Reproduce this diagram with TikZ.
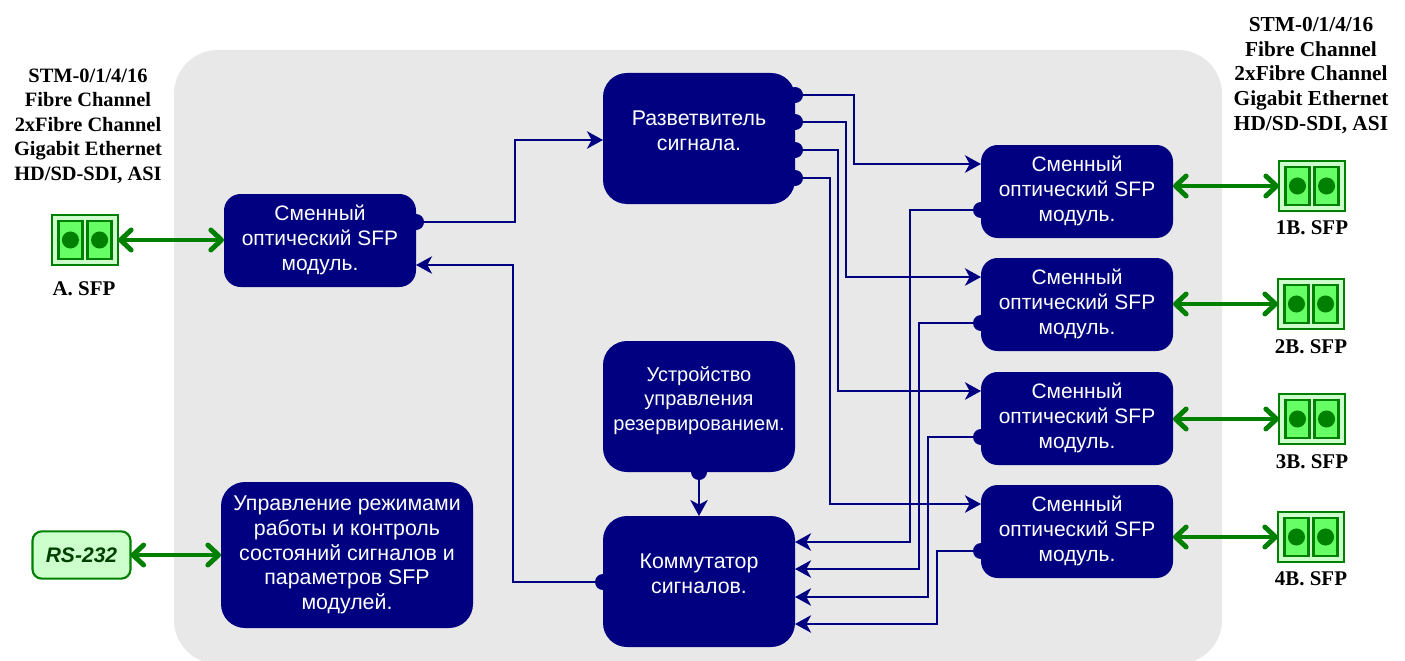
\documentclass[tikz,border=0pt]{standalone}
\usepackage{fontspec}
\setmainfont{Liberation Serif}
\setsansfont{Liberation Sans}
\usetikzlibrary{arrows.meta}
\definecolor{navyb}{HTML}{000080}
\definecolor{grn}{HTML}{008000}
\definecolor{panelc}{HTML}{E8E8E8}
\definecolor{lgrn}{HTML}{CCFFCC}
\definecolor{mgrn}{HTML}{66FF66}
\tikzset{
  px/.style={x=0.75pt,y=-0.75pt},
  blockbox/.style={draw=none,fill=navyb,rounded corners=18pt,inner sep=0pt,outer sep=0pt,text=white,align=center,font=\sffamily\fontsize{16}{18.6}\selectfont,minimum width=144pt},
  modbox/.style={blockbox,rounded corners=12.5pt,minimum height=69.75pt,font=\sffamily\fontsize{15.7}{18.75}\selectfont},
  bigbox/.style={blockbox,minimum height=98.25pt},
  bump/.style={circle,fill=navyb,draw=none,minimum size=12pt,inner sep=0pt,outer sep=0pt},
  wire/.style={draw=navyb,line width=2pt,line join=miter},
  tipwire/.style={wire,-{Stealth[inset=3.5pt,length=12pt,width=13pt]}},
  gwire/.style={draw=grn,line width=3.7pt,{Straight Barb[round,length=8pt,width=15pt]}-{Straight Barb[round,length=8pt,width=15pt]}},
  biglabel/.style={font=\rmfamily\bfseries\fontsize{15.7}{18.4}\selectfont,align=center,inner sep=0pt,text=black},
  sfpport/.style={draw=grn,line width=1.6pt,fill=mgrn,minimum width=18pt,minimum height=28pt,inner sep=0pt,outer sep=0pt},
  sfpouter/.style={draw=grn,line width=1.6pt,fill=lgrn,minimum width=49.5pt,minimum height=37.5pt,inner sep=0pt,outer sep=0pt},
  sfpdot/.style={circle,fill=grn,draw=none,minimum size=12.8pt,inner sep=0pt},
  rsbox/.style={draw=grn,line width=1.6pt,fill=lgrn,rounded corners=7pt,minimum width=73.5pt,minimum height=35.5pt,inner sep=0pt,outer sep=0pt,text={rgb,255:red,0;green,64;blue,0},font=\sffamily\bfseries\itshape\fontsize{15.8}{18}\selectfont},
}
\newcommand{\sfpicon}[3]{% name, cx, cy
  \node[sfpouter] (#1) at (#2,#3) {};
  \node[sfpport] (#1p) at ([xshift=-10.9pt]#1.center) {};
  \node[sfpport] (#1q) at ([xshift=10.9pt]#1.center) {};
  \node[sfpdot] (#1d) at (#1p) {};
  \node[sfpdot] (#1e) at (#1q) {};
}
\begin{document}
\begin{tikzpicture}[px]
\useasboundingbox (0,0) rectangle (1405,660);
\clip (0,0) rectangle (1405,660);
\fill[panelc,rounded corners=33pt] (174,50) rectangle (1222,664);

\node[bigbox] (split) at (699,138.5) {Разветвитель\\сигнала.\\[-6.6pt]};
\node[bigbox,font=\sffamily\fontsize{15}{18.4}\selectfont] (ctrl) at (699,406.5) {Устройство\\управления\\резервированием.\\[-6pt]};
\node[bigbox] (sw) at (699,581.5) {Коммутатор\\сигналов.\\[-6.6pt]};
\node[blockbox,minimum width=189pt,minimum height=109.5pt] (mgmt) at (347,555) {Управление режимами\\работы и контроль\\состояний сигналов и\\параметров SFP\\модулей.};
\node[modbox] (a) at (320,240.5) {Сменный\\оптический SFP\\модуль.\\[-14.5pt]};
\node[modbox] (m1) at (1077,191.5) {Сменный\\оптический SFP\\модуль.\\[-14.5pt]};
\node[modbox] (m2) at (1077,304.5) {Сменный\\оптический SFP\\модуль.\\[-14.5pt]};
\node[modbox] (m3) at (1077,418.5) {Сменный\\оптический SFP\\модуль.\\[-14.5pt]};
\node[modbox] (m4) at (1077,531.5) {Сменный\\оптический SFP\\модуль.\\[-14.5pt]};

\node[bump] (s1) at (795,95) {};
\node[bump] (s2) at (795,122) {};
\node[bump] (s3) at (795,150) {};
\node[bump] (s4) at (795,178) {};
\node[bump] (ao) at (416,222) {};
\node[bump] (so) at (603,582) {};
\node[bump] (co) at (699,472) {};
\node[bump] (o1) at (981,210) {};
\node[bump] (o2) at (981,323) {};
\node[bump] (o3) at (981,437) {};
\node[bump] (o4) at (981,551) {};

\draw[tipwire] (s1.center) -- (854,95) -- (854,164) -- (m1.west |- 0,164);
\draw[tipwire] (s2.center) -- (846,122) -- (846,277) -- (m2.west |- 0,277);
\draw[tipwire] (s3.center) -- (838,150) -- (838,391) -- (m3.west |- 0,391);
\draw[tipwire] (s4.center) -- (830,178) -- (830,504) -- (m4.west |- 0,504);
\draw[tipwire] (o1.center) -- (910,210) -- (910,542) -- (sw.east |- 0,542);
\draw[tipwire] (o2.center) -- (919,323) -- (919,569) -- (sw.east |- 0,569);
\draw[tipwire] (o3.center) -- (928,437) -- (928,597) -- (sw.east |- 0,597);
\draw[tipwire] (o4.center) -- (937,551) -- (937,624) -- (sw.east |- 0,624);
\draw[tipwire] (ao.center) -- (515,222) -- (515,140) -- (split.west |- 0,140);
\draw[tipwire] (so.center) -- (513,582) -- (513,265) -- (a.east |- 0,265);
\draw[tipwire] (co.center) -- (sw.north -| co);

\sfpicon{pa}{85}{240}
\sfpicon{p1}{1312}{186}
\sfpicon{p2}{1311}{304}
\sfpicon{p3}{1312}{419}
\sfpicon{p4}{1311}{537}

\draw[gwire] (pa.east) -- (a.west |- pa.east);
\draw[gwire] (m1.east |- p1.west) -- (p1.west);
\draw[gwire] (m2.east |- p2.west) -- (p2.west);
\draw[gwire] (m3.east |- p3.west) -- (p3.west);
\draw[gwire] (m4.east |- p4.west) -- (p4.west);

\node[rsbox] (rs) at (81.5,555) {RS-232};
\draw[gwire] (rs.east) -- (mgmt.west);

\node[biglabel,font=\rmfamily\bfseries\fontsize{15.3}{18.4}\selectfont] (tl) at (88,126) {STM-0/1/4/16\\Fibre Channel\\2xFibre Channel\\Gigabit Ethernet\\HD/SD-SDI, ASI};
\node[biglabel,font=\rmfamily\bfseries\fontsize{16}{18.6}\selectfont] (tr) at (1311,75.5) {STM-0/1/4/16\\Fibre Channel\\2xFibre Channel\\Gigabit Ethernet\\HD/SD-SDI, ASI};
\node[biglabel] (la) at (84,289) {A. SFP};
\node[biglabel] (l1) at (1312,228) {1B. SFP};
\node[biglabel] (l2) at (1311,346.5) {2B. SFP};
\node[biglabel] (l3) at (1312,461.5) {3B. SFP};
\node[biglabel] (l4) at (1311,578.5) {4B. SFP};
\end{tikzpicture}
\end{document}
